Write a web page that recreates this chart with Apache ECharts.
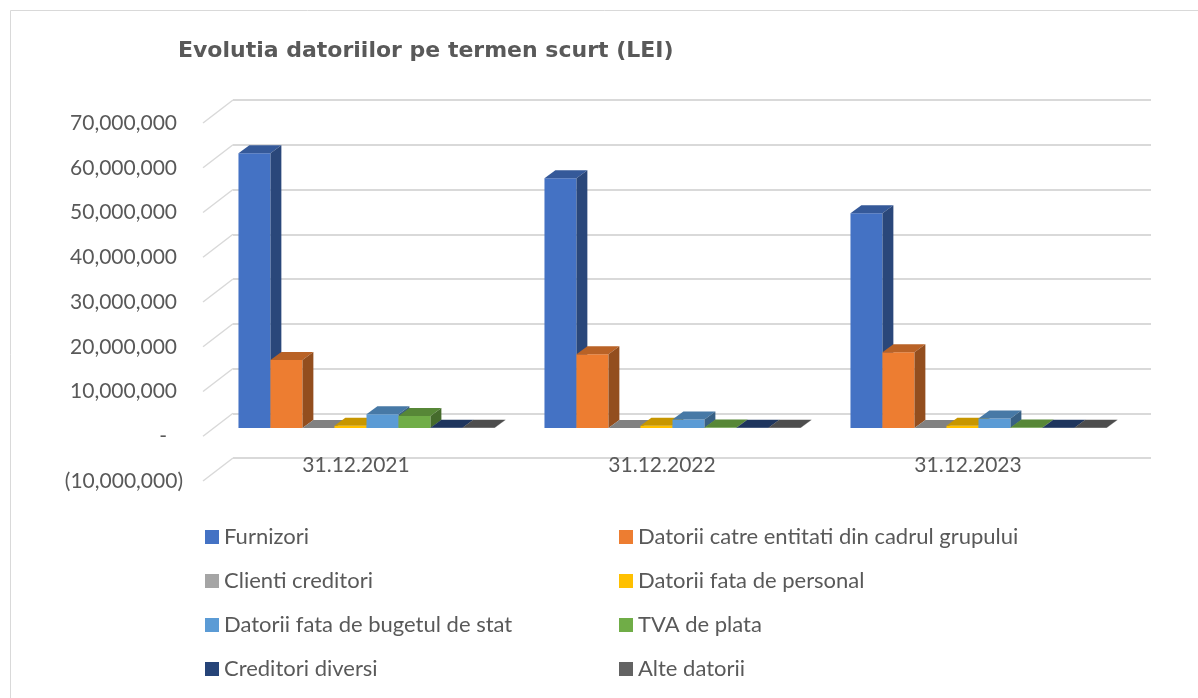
<!DOCTYPE html>
<html>

<head>
    <meta charset="utf-8">
    <title>Evolutia datoriilor pe termen scurt</title>
    <script src="https://cdn.jsdelivr.net/npm/echarts@6/dist/echarts.min.js"></script>
    <style>
        html, body { margin: 0; padding: 0; background: #ffffff; }
        #chart { width: 1198px; height: 698px; }
    </style>
</head>

<body>
    <div id="chart"></div>
    <script>
        // date (categorii)
        const categories = ['31.12.2021', '31.12.2022', '31.12.2023'];

        // serii - valori in LEI
        const furnizori = [61400000, 55800000, 48000000];
        const datoriiGrup = [15200000, 16500000, 16900000];
        const clientiCreditori = [0, 0, 0];
        const datoriiPersonal = [500000, 500000, 500000];
        const datoriiBuget = [3100000, 1900000, 2100000];
        const tvaPlata = [2700000, 100000, 100000];
        const creditoriDiversi = [50000, 50000, 50000];
        const alteDatorii = [50000, 50000, 50000];

        const seriesNames = ['Furnizori', 'Datorii catre entitati din cadrul grupului', 'Clienti creditori',
            'Datorii fata de personal', 'Datorii fata de bugetul de stat', 'TVA de plata',
            'Creditori diversi', 'Alte datorii'];
        const seriesValues = [furnizori, datoriiGrup, clientiCreditori, datoriiPersonal,
            datoriiBuget, tvaPlata, creditoriDiversi, alteDatorii];
        const colors = ['#4472C4', '#ED7D31', '#A5A5A5', '#FFC000', '#5B9BD5', '#70AD47', '#264478', '#636363'];

        // ticks axa valori
        const yMin = -10000000, yMax = 70000000, yStep = 10000000;
        const tickValues = [-10000000, 0, 10000000, 20000000, 30000000, 40000000, 50000000, 60000000, 70000000];

        const textColor = '#595959';
        const gridColor = '#d9d9d9';

        function shade(hex, f) {
            const n = parseInt(hex.slice(1), 16);
            const r = Math.round(((n >> 16) & 255) * f);
            const g = Math.round(((n >> 8) & 255) * f);
            const b = Math.round((n & 255) * f);
            return 'rgb(' + r + ',' + g + ',' + b + ')';
        }

        function fmtNum(v) {
            const s = Math.abs(v).toString().replace(/\B(?=(\d{3})+(?!\d))/g, ',');
            if (v === 0) return '{z|-}';
            if (v < 0) return '{n|(' + s + ')}';
            return '{p|' + s + '}';
        }

        const chart = echarts.init(document.getElementById('chart'));

        // bara 3D: fata, capac si lateral
        function barRenderer(idx) {
            return function (params, api) {
                const cat = api.value(0), v = api.value(1);
                const band = api.size([1, 0])[0];
                const bw = band * 0.1046;
                const dx = bw * 0.34, dy = -bw * 0.25;
                const base = api.coord([cat, 0]);
                const top = api.coord([cat, v]);
                const x0 = base[0] + (idx - 4) * bw;
                const x1 = x0 + bw;
                const yb = base[1], yt = top[1];
                const c = colors[idx];
                return {
                    type: 'group',
                    children: [
                        {
                            type: 'rect',
                            shape: { x: x0, y: yt, width: bw, height: yb - yt },
                            style: { fill: c }
                        },
                        {
                            type: 'polygon',
                            shape: { points: [[x0, yt], [x0 + dx, yt + dy], [x1 + dx, yt + dy], [x1, yt]] },
                            style: { fill: shade(c, 0.78) }
                        },
                        {
                            type: 'polygon',
                            shape: { points: [[x1, yt], [x1 + dx, yt + dy], [x1 + dx, yb + dy], [x1, yb]] },
                            style: { fill: shade(c, 0.62) }
                        }
                    ]
                };
            };
        }

        const barSeries = seriesNames.map(function (name, i) {
            return {
                name: name,
                type: 'custom',
                xAxisIndex: 1,
                yAxisIndex: 1,
                itemStyle: { color: colors[i] },
                renderItem: barRenderer(i),
                data: seriesValues[i].map(function (v, k) { return [k, v]; })
            };
        });

        // linii oblice de la fata la peretele din spate
        const depthSeries = {
            type: 'custom',
            xAxisIndex: 2,
            yAxisIndex: 2,
            silent: true,
            renderItem: function (params, api) {
                const y = api.coord([0, api.value(0)])[1];
                const x = params.coordSys.x;
                return {
                    type: 'line',
                    shape: { x1: x, y1: y, x2: x + 30, y2: y - 23 },
                    style: { stroke: gridColor, lineWidth: 1.5 }
                };
            },
            data: tickValues.map(function (v) { return [v]; })
        };

        const hiddenCat = { type: 'category', data: categories, show: false };
        const hiddenVal = { type: 'value', min: yMin, max: yMax, interval: yStep, show: false };

        const labelFont = 'Lato, "Open Sans", sans-serif';

        const option = {
            animation: false,
            backgroundColor: '#ffffff',
            textStyle: { fontFamily: labelFont },
            graphic: [{
                type: 'rect',
                shape: { x: 10.5, y: 10.5, width: 1200, height: 700 },
                style: { fill: 'none', stroke: '#d9d9d9', lineWidth: 1 },
                silent: true
            }],
            title: {
                text: 'Evolutia datoriilor pe termen scurt (LEI)',
                left: 173,
                top: 35,
                textStyle: {
                    fontFamily: '"DejaVu Sans", sans-serif',
                    fontWeight: 'bold',
                    fontSize: 22,
                    color: textColor
                }
            },
            legend: [{
                orient: 'vertical',
                left: 200,
                top: 521,
                itemWidth: 14,
                itemHeight: 14,
                itemGap: 22,
                icon: 'rect',
                selectedMode: false,
                data: [seriesNames[0], seriesNames[2], seriesNames[4], seriesNames[6]],
                textStyle: { fontFamily: labelFont, fontSize: 22, color: textColor }
            }, {
                orient: 'vertical',
                left: 614,
                top: 521,
                itemWidth: 14,
                itemHeight: 14,
                itemGap: 22,
                icon: 'rect',
                selectedMode: false,
                data: [seriesNames[1], seriesNames[3], seriesNames[5], seriesNames[7]],
                textStyle: { fontFamily: labelFont, fontSize: 22, color: textColor }
            }],
            grid: [
                // peretele din spate
                { left: 233, right: 47, top: 100, bottom: 240 },
                // planul fetei barelor
                { left: 213.5, right: 66.5, top: 114.75, bottom: 225.25 },
                // planul din fata (etichete)
                { left: 203, right: 77, top: 123, bottom: 217 }
            ],
            xAxis: [
                Object.assign({ gridIndex: 0 }, hiddenCat),
                Object.assign({ gridIndex: 1 }, hiddenCat),
                {
                    gridIndex: 2,
                    type: 'category',
                    data: categories,
                    axisLine: { show: false },
                    axisTick: { show: false },
                    axisLabel: { margin: -26, fontSize: 21, color: textColor, fontFamily: labelFont }
                }
            ],
            yAxis: [
                {
                    gridIndex: 0,
                    type: 'value',
                    min: yMin, max: yMax, interval: yStep,
                    axisLabel: { show: false },
                    axisLine: { show: false },
                    axisTick: { show: false },
                    splitLine: { show: true, lineStyle: { color: gridColor, width: 2 } }
                },
                Object.assign({ gridIndex: 1 }, hiddenVal),
                {
                    gridIndex: 2,
                    type: 'value',
                    min: yMin, max: yMax, interval: yStep,
                    axisLine: { show: false },
                    axisTick: { show: false },
                    splitLine: { show: false },
                    axisLabel: {
                        margin: 20,
                        formatter: fmtNum,
                        rich: {
                            p: { fontSize: 21, color: textColor, fontFamily: labelFont, padding: [0, 6, 0, 0] },
                            z: { fontSize: 21, color: textColor, fontFamily: labelFont, padding: [0, 16, 0, 0] },
                            n: { fontSize: 21, color: textColor, fontFamily: labelFont }
                        }
                    }
                }
            ],
            series: [depthSeries].concat(barSeries)
        };

        chart.setOption(option);
    </script>
</body>

</html>
